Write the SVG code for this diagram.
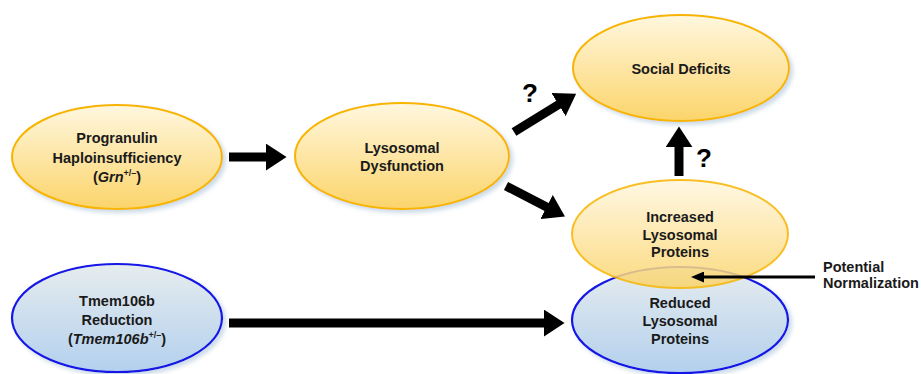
<svg xmlns="http://www.w3.org/2000/svg" width="921" height="374" viewBox="0 0 921 374">
<defs>
<linearGradient id="gy" x1="0" y1="0" x2="0" y2="1">
<stop offset="0" stop-color="#fff7df"/>
<stop offset="1" stop-color="#fbd46a"/>
</linearGradient>
<linearGradient id="gb" x1="0" y1="0" x2="0" y2="1">
<stop offset="0" stop-color="#e6ecee"/>
<stop offset="1" stop-color="#b3d0ee"/>
</linearGradient>
<filter id="sh" x="-10%" y="-10%" width="125%" height="130%">
<feGaussianBlur in="SourceAlpha" stdDeviation="2"/>
<feOffset dx="3" dy="3" result="b"/>
<feFlood flood-color="#9ab8d0" flood-opacity="0.5"/>
<feComposite in2="b" operator="in"/>
<feMerge><feMergeNode/><feMergeNode in="SourceGraphic"/></feMerge>
</filter>
<marker id="ah" viewBox="0 0 18 24" refX="1" refY="12" markerWidth="2.3" markerHeight="3" markerUnits="strokeWidth" orient="auto" preserveAspectRatio="none">
<path d="M0,0 L18,12 L0,24 z" fill="#000"/>
</marker>
<marker id="ah2" viewBox="0 0 13 11" refX="1" refY="5.5" markerWidth="13" markerHeight="11" markerUnits="userSpaceOnUse" orient="auto">
<path d="M0,0 L13,5.5 L0,11 z" fill="#000"/>
</marker>
</defs>
<style>
.y{fill:url(#gy);stroke:#f7b500;stroke-width:2}
.b{fill:url(#gb);stroke:#1414e6;stroke-width:2.2}
text{font-family:"Liberation Sans",Arial,sans-serif;font-weight:bold;font-size:14.5px;fill:#1a1a1a;text-anchor:middle}
.q{font-size:26px;fill:#000}
.l{text-anchor:start}
.c{fill:none;stroke:#000;stroke-width:9;marker-end:url(#ah)}
</style>
<g id="prog">
<ellipse class="y" cx="117" cy="157" rx="105" ry="52" filter="url(#sh)"/>
<text x="117" y="143">Progranulin</text>
<text x="117" y="163">Haploinsufficiency</text>
<text x="117" y="182">(<tspan font-style="italic">Grn</tspan><tspan font-size="9" dy="-6">+/–</tspan><tspan dy="6">)</tspan></text>
</g>
<g id="tmem">
<ellipse class="b" cx="117" cy="318" rx="105" ry="54" filter="url(#sh)"/>
<text x="117" y="306">Tmem106b</text>
<text x="117" y="325">Reduction</text>
<text x="117" y="344">(<tspan font-style="italic">Tmem106b</tspan><tspan font-size="9" dy="-6">+/–</tspan><tspan dy="6">)</tspan></text>
</g>
<g id="lyso">
<ellipse class="y" cx="402" cy="156" rx="107" ry="53" filter="url(#sh)"/>
<text x="402" y="153">Lysosomal</text>
<text x="402" y="171">Dysfunction</text>
</g>
<g id="social">
<ellipse class="y" cx="681" cy="68" rx="108" ry="53" filter="url(#sh)"/>
<text x="681" y="74">Social Deficits</text>
</g>
<g id="reduced">
<ellipse class="b" cx="680" cy="320" rx="108" ry="53" filter="url(#sh)"/>
<text x="680" y="308">Reduced</text>
<text x="680" y="326">Lysosomal</text>
<text x="680" y="344">Proteins</text>
</g>
<g id="increased">
<ellipse class="y" cx="680" cy="234" rx="108" ry="54" opacity="0.85"/>
<text x="680" y="222">Increased</text>
<text x="680" y="240">Lysosomal</text>
<text x="680" y="257">Proteins</text>
</g>
<g id="connectors">
<line class="c" x1="229" y1="157" x2="267" y2="157" stroke-width="10"/>
<line class="c" x1="229" y1="323" x2="545" y2="323"/>
<line class="c" x1="514" y1="132" x2="559.5" y2="104"/>
<line class="c" x1="506" y1="186" x2="547.6" y2="207.5"/>
<line class="c" x1="679" y1="176" x2="679" y2="146"/>
<line x1="815" y1="277" x2="703" y2="277" stroke="#000" stroke-width="3.2" marker-end="url(#ah2)"/>
<text class="q" x="530" y="102">?</text>
<text class="q" x="704" y="167">?</text>
<text class="l" x="823" y="272">Potential</text>
<text class="l" x="823" y="288">Normalization</text>
</g>
</svg>
